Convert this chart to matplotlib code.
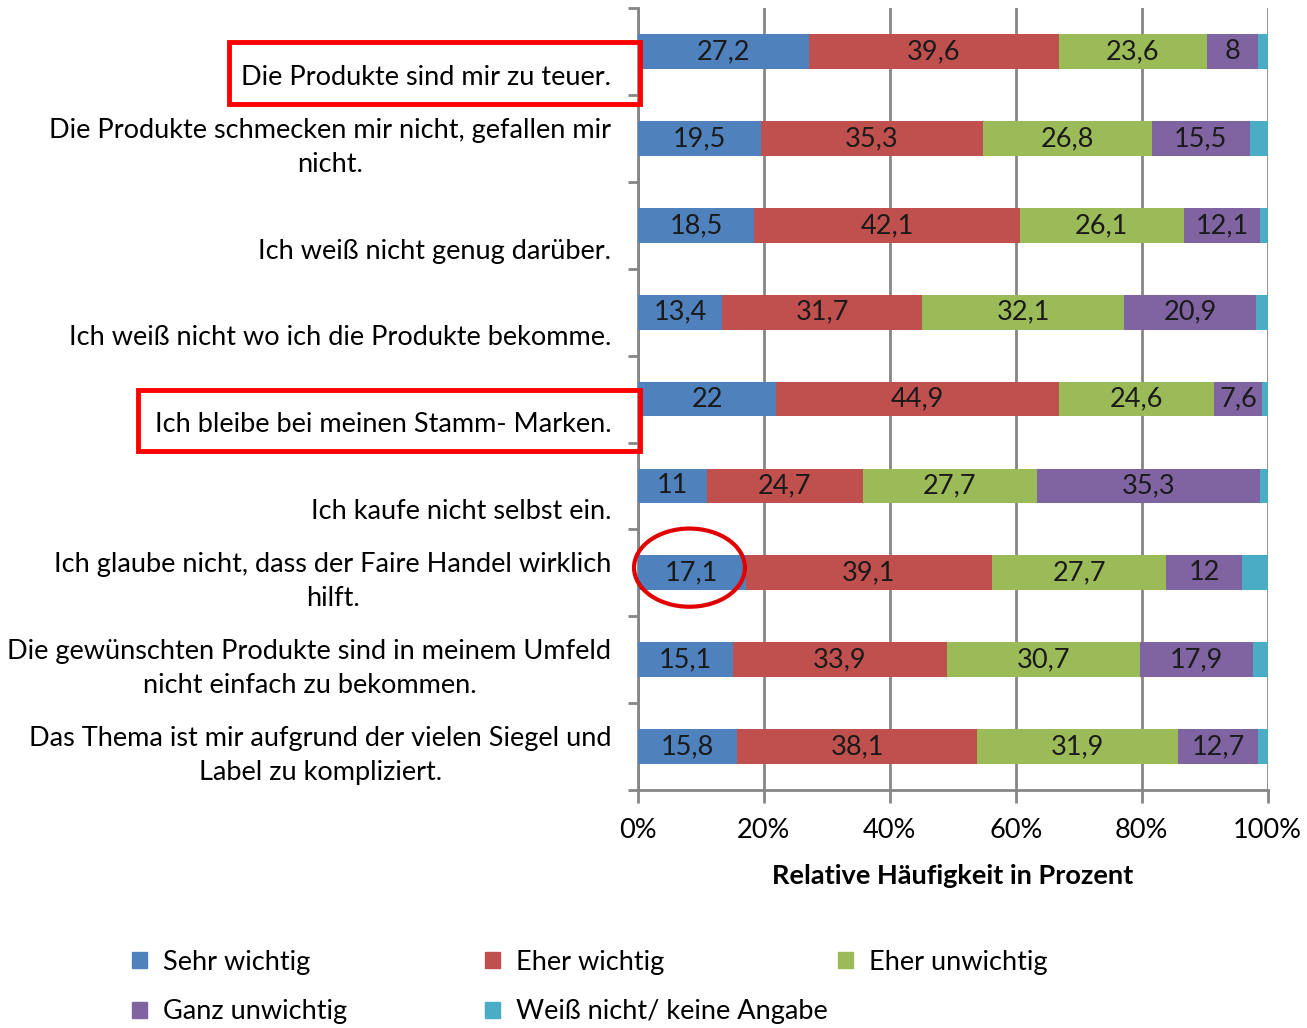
import matplotlib
matplotlib.use("Agg")
import matplotlib.pyplot as plt
from matplotlib.patches import Rectangle, Ellipse, Patch
import numpy as np

plt.rcParams['font.family'] = ['Lato', 'DejaVu Sans']
FS = 19.5

categories = [
    "Die Produkte sind mir zu teuer.",
    "Die Produkte schmecken mir nicht, gefallen mir\nnicht.",
    "Ich weiß nicht genug darüber.",
    "Ich weiß nicht wo ich die Produkte bekomme.",
    "Ich bleibe bei meinen Stamm- Marken.",
    "Ich kaufe nicht selbst ein.",
    "Ich glaube nicht, dass der Faire Handel wirklich\nhilft.",
    "Die gewünschten Produkte sind in meinem Umfeld\nnicht einfach zu bekommen.",
    "Das Thema ist mir aufgrund der vielen Siegel und\nLabel zu kompliziert.",
]

sehr_wichtig = [27.2, 19.5, 18.5, 13.4, 22.0, 11.0, 17.1, 15.1, 15.8]
eher_wichtig = [39.6, 35.3, 42.1, 31.7, 44.9, 24.7, 39.1, 33.9, 38.1]
eher_unwichtig = [23.6, 26.8, 26.1, 32.1, 24.6, 27.7, 27.7, 30.7, 31.9]
ganz_unwichtig = [8.0, 15.5, 12.1, 20.9, 7.6, 35.3, 12.0, 17.9, 12.7]
weiss_nicht = [1.6, 2.9, 1.2, 1.9, 0.9, 1.3, 4.1, 2.4, 1.5]

series = [sehr_wichtig, eher_wichtig, eher_unwichtig, ganz_unwichtig, weiss_nicht]
names = ["Sehr wichtig", "Eher wichtig", "Eher unwichtig", "Ganz unwichtig",
         "Weiß nicht/ keine Angabe"]
colors = ["#4F81BD", "#C0504D", "#9BBB59", "#8064A2", "#4BACC6"]
show_labels = [True, True, True, True, False]

fig = plt.figure(figsize=(13.07, 10.28), dpi=100)
ax = fig.add_axes([0.488, 0.2315, 0.482, 0.7605])

y = np.arange(len(categories))
left = np.zeros(len(categories))
for vals, name, col, lab in zip(series, names, colors, show_labels):
    vals = np.array(vals)
    bars = ax.barh(y, vals, left=left, height=0.4, color=col, label=name, zorder=3)
    if lab:
        txt = [f"{v:g}".replace(".", ",") for v in vals]
        ax.bar_label(bars, labels=txt, label_type="center", fontsize=FS, color="#1a1a1a")
    left += vals

ax.set_xlim(0, 100)
ax.set_ylim(len(categories) - 0.5, -0.5)
ax.set_xticks(np.arange(0, 101, 20))
ax.set_xticklabels([f"{t}%" for t in range(0, 101, 20)], fontsize=FS)
ax.xaxis.grid(True, color="#868686", linewidth=2, zorder=0)
ax.set_axisbelow(True)

ax.set_yticks(np.arange(-0.5, len(categories), 1.0))
ax.set_yticklabels([])
ax.tick_params(axis="y", direction="out", length=7, width=2, color="#868686")
ax.tick_params(axis="x", direction="out", length=9, width=2, color="#868686", pad=11)

for s in ["top", "right"]:
    ax.spines[s].set_visible(False)
for s in ["left", "bottom"]:
    ax.spines[s].set_color("#868686")
    ax.spines[s].set_linewidth(2)

ax.set_xlabel("Relative Häufigkeit in Prozent", fontsize=FS, fontweight="bold", labelpad=15)

# category labels (Excel puts them near the lower edge of each band)
for i, cat in enumerate(categories):
    ax.text(-4.2, i + 0.44, cat, ha="right", va="bottom", fontsize=FS,
            multialignment="center", linespacing=1.45, clip_on=False)

# red highlight marks
ax.add_patch(Rectangle((-64.9, -0.11), 65.2, 0.71, fill=False, edgecolor="#FF0000",
                       linewidth=3.5, clip_on=False, zorder=5))
ax.add_patch(Rectangle((-79.4, 3.89), 79.7, 0.71, fill=False, edgecolor="#FF0000",
                       linewidth=3.5, clip_on=False, zorder=5))
ax.add_patch(Ellipse((8.2, 5.94), 17.6, 0.9, fill=False, edgecolor="#E00000",
                     linewidth=3, clip_on=False, zorder=5))

# legend: Excel lays it out in fixed-width columns, so one legend per column
handles = [Patch(color=c) for c in colors]
columns = [[0, 3], [1, 4], [2]]
col_x = [0.101, 0.371, 0.641]
for idx, cx in zip(columns, col_x):
    fig.legend([handles[i] for i in idx], [names[i] for i in idx],
               loc="upper left", bbox_to_anchor=(cx, 0.076), borderpad=0,
               borderaxespad=0, frameon=False, fontsize=FS, handlelength=0.55,
               handleheight=0.55, handletextpad=0.6, labelspacing=0.9)

fig.savefig("out.png", dpi=100)
